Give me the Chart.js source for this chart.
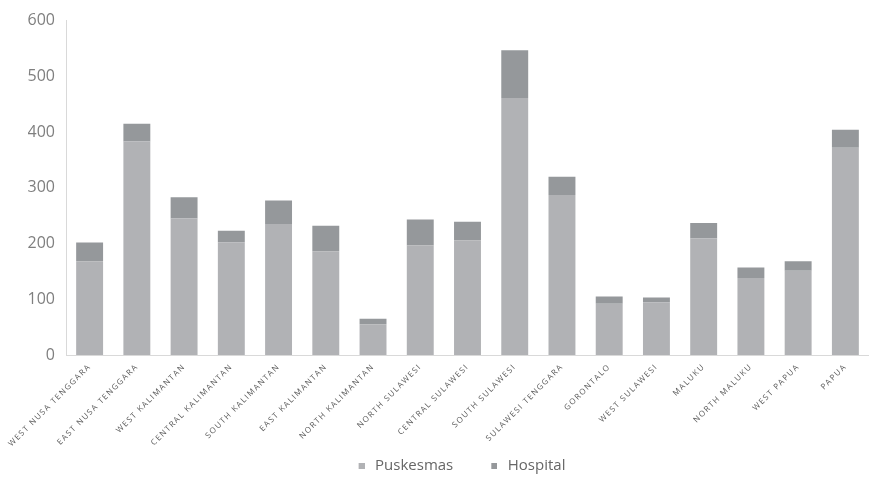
<!DOCTYPE html>
<html>
<head>
<meta charset="utf-8">
<script src="https://cdn.jsdelivr.net/npm/chart.js@4"></script>
<style>
  html, body { margin: 0; padding: 0; background: #fff; }
  #wrap { width: 869px; height: 477px; }
</style>
</head>
<body>
<div id="wrap"><canvas id="chart" width="869" height="477"></canvas></div>
<script>
const provinces = ['WEST NUSA TENGGARA', 'EAST NUSA TENGGARA', 'WEST KALIMANTAN', 'CENTRAL KALIMANTAN',
  'SOUTH KALIMANTAN', 'EAST KALIMANTAN', 'NORTH KALIMANTAN', 'NORTH SULAWESI', 'CENTRAL SULAWESI',
  'SOUTH SULAWESI', 'SULAWESI TENGGARA', 'GORONTALO', 'WEST SULAWESI', 'MALUKU', 'NORTH MALUKU',
  'WEST PAPUA', 'PAPUA'];
const puskesmas = [168, 383, 245, 202, 235, 186, 55, 197, 206, 461, 287, 92, 94, 209, 138, 151, 372];
const hospital = [34, 32, 38, 21, 42, 46, 10, 46, 33, 86, 33, 13, 9, 28, 19, 17, 32];
const yTicks = [0, 100, 200, 300, 400, 500, 600];

const colors = ['#b1b2b5', '#95989b'];
const SPACING = '1.4px';

function noSpacing(fn) {
  return function (...args) {
    const c = this.ctx;
    const prev = c.letterSpacing;
    c.letterSpacing = '0px';
    const r = fn.apply(this, args);
    c.letterSpacing = prev;
    return r;
  };
}

// spaced caps on the category labels only
const spacedLabels = {
  id: 'spacedLabels',
  beforeLayout(chart) {
    chart.ctx.letterSpacing = SPACING;
    const ys = chart.scales.y;
    if (ys && !ys._plain) {
      ys.fit = noSpacing(ys.fit);
      ys.drawLabels = noSpacing(ys.drawLabels);
      ys._plain = true;
    }
    const lg = chart.legend;
    if (lg && !lg._plain) {
      lg.fit = noSpacing(lg.fit);
      lg.draw = noSpacing(lg.draw);
      lg._plain = true;
    }
  },
  beforeDraw(chart) {
    chart.ctx.letterSpacing = SPACING;
  }
};

// small square legend markers, set a little right of the box centre
function marker(color) {
  const c = document.createElement('canvas');
  c.width = 30;
  c.height = 6;
  const g = c.getContext('2d');
  g.fillStyle = color;
  g.fillRect(24, 0, 6, 6);
  return c;
}
const markers = colors.map(marker);

const ctx = document.getElementById('chart').getContext('2d');
new Chart(ctx, {
  type: 'bar',
  data: {
    labels: provinces,
    datasets: [
      { label: 'Puskesmas', data: puskesmas, backgroundColor: colors[0], borderWidth: 0 },
      { label: 'Hospital', data: hospital, backgroundColor: colors[1], borderWidth: 0 }
    ]
  },
  plugins: [spacedLabels],
  options: {
    responsive: false,
    animation: false,
    categoryPercentage: 1,
    barPercentage: 0.57,
    layout: { padding: { top: -2, right: 0, left: 28, bottom: -6 } },
    scales: {
      x: {
        stacked: true,
        grid: { display: false, drawTicks: false },
        border: { color: '#d9d9d9', width: 1 },
        ticks: {
          color: '#595959',
          minRotation: 45,
          maxRotation: 45,
          autoSkip: false,
          padding: 7,
          font: { family: 'Open Sans', size: 8 }
        },
        // rotated labels may hang past the left edge, as in the original
        afterFit(s) {
          s.paddingLeft = 0;
          s.paddingRight = 0;
          s.height = 92;
        }
      },
      y: {
        stacked: true,
        min: 0,
        max: 600,
        afterBuildTicks(axis) { axis.ticks = yTicks.map(v => ({ value: v })); },
        afterFit(s) { s.width = 38; },
        grid: { display: false, drawTicks: false },
        border: { color: '#d9d9d9', width: 1 },
        ticks: {
          color: '#7f7f7f',
          padding: 11,
          font: { family: 'Open Sans', size: 16 }
        }
      }
    },
    plugins: {
      legend: {
        position: 'bottom',
        labels: {
          usePointStyle: true,
          pointStyleWidth: 36,
          padding: 11,
          color: '#666',
          font: { family: 'Open Sans', size: 15 },
          generateLabels(chart) {
            const items = Chart.defaults.plugins.legend.labels.generateLabels(chart);
            items.forEach((it, i) => { it.pointStyle = markers[i]; });
            return items;
          }
        }
      },
      tooltip: { enabled: false }
    }
  }
});
</script>
</body>
</html>
